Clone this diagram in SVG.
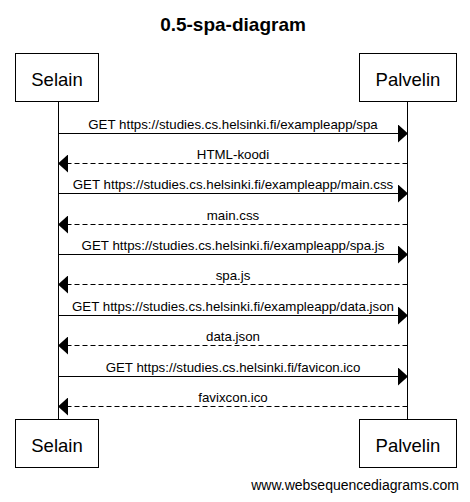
<svg xmlns="http://www.w3.org/2000/svg" width="470" height="502" viewBox="0 0 470 502">
<style>
text{font-family:"Liberation Sans",Arial,sans-serif;fill:#000}
.title{font-size:19px;font-weight:bold;text-anchor:middle}
.actor rect{fill:#fff;stroke:#000;stroke-width:1}
.actor text{font-size:18.5px;text-anchor:middle}
.life{stroke:#000;stroke-width:1}
.msg{stroke:#000;stroke-width:1;fill:none;marker-end:url(#head)}
.ret{stroke-dasharray:5,3}
.lbl{font-size:13.3px;text-anchor:middle}
.foot{font-size:14px;text-anchor:end}
</style>
<defs>
<marker id="head" markerUnits="userSpaceOnUse" markerWidth="10" markerHeight="18" refX="10" refY="9" orient="auto" viewBox="0 0 10 18">
<path d="M0,0 L10,9 L0,18 z" fill="#000"/>
</marker>
</defs>
<rect width="470" height="502" fill="#fff"/>
<text class="title" x="233" y="31">0.5-spa-diagram</text>
<g id="lifelines">
<line class="life" x1="58.5" y1="102" x2="58.5" y2="419"/>
<line class="life" x1="407.5" y1="102" x2="407.5" y2="419"/>
</g>
<g id="selain-top" class="actor"><rect x="15.5" y="53.5" width="83" height="48"/><text x="57" y="85.5">Selain</text></g>
<g id="palvelin-top" class="actor"><rect x="359.5" y="53.5" width="97" height="48"/><text x="408" y="85.5">Palvelin</text></g>
<g id="selain-bottom" class="actor"><rect x="15.5" y="419.5" width="83" height="48"/><text x="57" y="451.5">Selain</text></g>
<g id="palvelin-bottom" class="actor"><rect x="359.5" y="419.5" width="97" height="48"/><text x="408" y="451.5">Palvelin</text></g>
<g id="connectors">
<line class="msg" x1="58.5" y1="133.5" x2="408" y2="133.5"/>
<text class="lbl" x="233" y="128.5">GET https://studies.cs.helsinki.fi/exampleapp/spa</text>
<line class="msg ret" x1="407.5" y1="163.5" x2="58" y2="163.5"/>
<text class="lbl" x="233" y="158.5">HTML-koodi</text>
<line class="msg" x1="58.5" y1="193.5" x2="408" y2="193.5"/>
<text class="lbl" x="233" y="188.5">GET https://studies.cs.helsinki.fi/exampleapp/main.css</text>
<line class="msg ret" x1="407.5" y1="224.5" x2="58" y2="224.5"/>
<text class="lbl" x="233" y="219.5">main.css</text>
<line class="msg" x1="58.5" y1="254.5" x2="408" y2="254.5"/>
<text class="lbl" x="233" y="249.5">GET https://studies.cs.helsinki.fi/exampleapp/spa.js</text>
<line class="msg ret" x1="407.5" y1="284.5" x2="58" y2="284.5"/>
<text class="lbl" x="233" y="279.5">spa.js</text>
<line class="msg" x1="58.5" y1="315.5" x2="408" y2="315.5"/>
<text class="lbl" x="233" y="310.5">GET https://studies.cs.helsinki.fi/exampleapp/data.json</text>
<line class="msg ret" x1="407.5" y1="345.5" x2="58" y2="345.5"/>
<text class="lbl" x="233" y="340.5">data.json</text>
<line class="msg" x1="58.5" y1="376.5" x2="408" y2="376.5"/>
<text class="lbl" x="233" y="371.5">GET https://studies.cs.helsinki.fi/favicon.ico</text>
<line class="msg ret" x1="407.5" y1="406.5" x2="58" y2="406.5"/>
<text class="lbl" x="233" y="401.5">favixcon.ico</text>
</g>
<text class="foot" x="459" y="490">www.websequencediagrams.com</text>
</svg>
